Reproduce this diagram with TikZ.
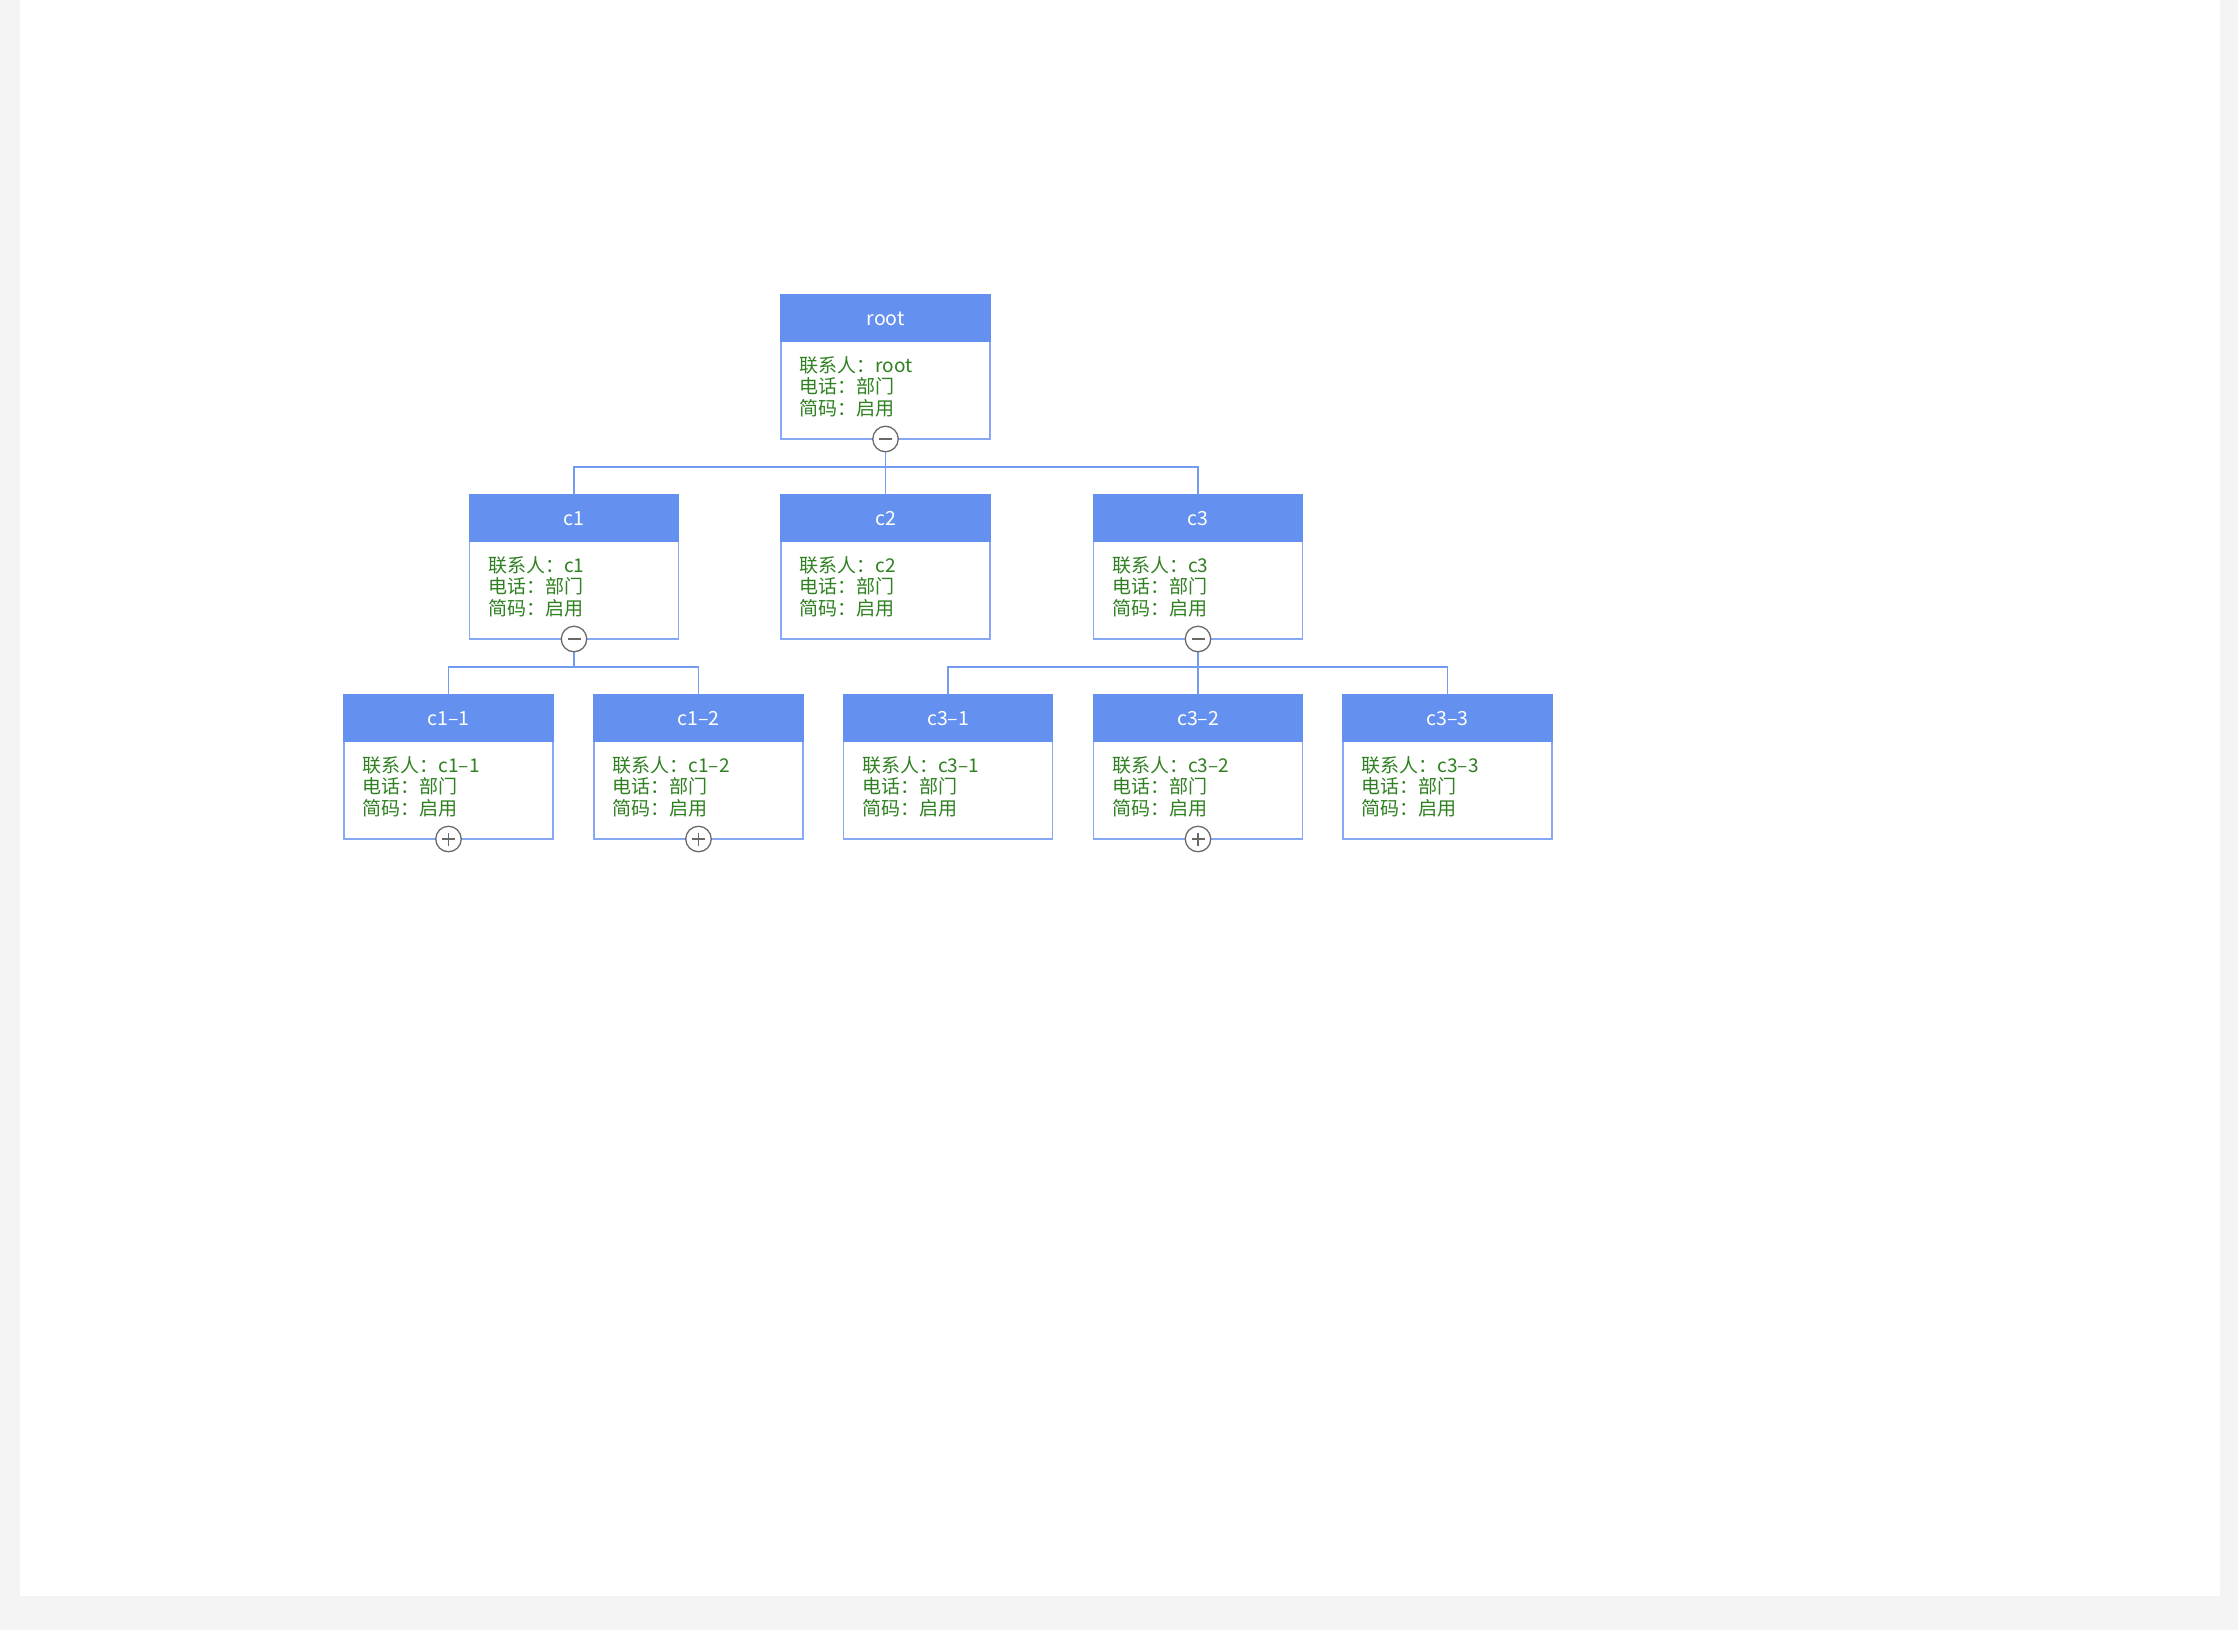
\documentclass[tikz,border=0pt]{standalone}
\usepackage{fontspec}
\setmainfont{Noto Sans CJK SC}
\usetikzlibrary{calc}
\definecolor{bggray}{RGB}{244,244,244}
\definecolor{headblue}{RGB}{100,145,240}
\definecolor{cardborder}{RGB}{135,168,245}
\definecolor{connblue}{RGB}{115,155,242}
\definecolor{bodygreen}{RGB}{46,128,32}
\definecolor{btngray}{RGB}{105,105,105}
\tikzset{
  card/.style={draw=cardborder, line width=1.5pt, fill=white, anchor=north west,
    minimum width=209pt, minimum height=144pt, inner sep=0pt, outer sep=0pt},
  cardhead/.style={fill=headblue, anchor=north west, minimum width=209pt,
    minimum height=48pt, inner sep=0pt, text=white, font=\fontsize{19.5}{21.7}\selectfont},
  cardbody/.style={anchor=base west, align=left, inner sep=0pt, text=bodygreen,
    font=\fontsize{19}{21.7}\selectfont},
  conn/.style={draw=connblue, line width=1.8pt},
  btn/.style={circle, draw=btngray, fill=white, line width=1.3pt, minimum size=25.5pt, inner sep=0pt},
  sign/.style={draw=btngray, line width=1.3pt}
}
\newcommand\orgcard[4]{%
  \node[card] (#1) at (#2,#3) {};
  \node[cardhead] (#1h) at (#2-0.75,#3-0.75) [minimum width=210.5pt] {\raisebox{-2.5pt}{#4}};
  \node[cardbody] (#1t) at (#2+18.5,#3+120.4) {联系人：#4\\电话：部门\\简码：启用};
}
\newcommand\minusbtn[2]{%
  \node[btn] (#1) at (#2.south) {};
  \draw[sign] ([xshift=-6.5pt]#1.center) -- ([xshift=6.5pt]#1.center);
}
\newcommand\plusbtn[2]{%
  \node[btn] (#1) at (#2.south) {};
  \draw[sign] ([xshift=-6.5pt]#1.center) -- ([xshift=6.5pt]#1.center);
  \draw[sign] ([yshift=-6.5pt]#1.center) -- ([yshift=6.5pt]#1.center);
}
\begin{document}
\begin{tikzpicture}[x=1pt,y=-1pt]
\useasboundingbox (0,0) rectangle (2238,1630);
\fill[bggray] (0,0) rectangle (2238,1630);
\fill[white] (20,0) rectangle (2220,1596);

\orgcard{root}{781}{295}{root}
\orgcard{c1}{469.5}{495}{c1}
\orgcard{c2}{781}{495}{c2}
\orgcard{c3}{1093.5}{495}{c3}
\orgcard{c11}{344}{695}{c1–1}
\orgcard{c12}{594}{695}{c1–2}
\orgcard{c31}{843.5}{695}{c3–1}
\orgcard{c32}{1093.5}{695}{c3–2}
\orgcard{c33}{1343}{695}{c3–3}

\draw[conn] (root.south) |- ([yshift=28pt]c1.north) -- (c1.north);
\draw[conn] (root.south) -- (c2.north);
\draw[conn] (root.south) |- ([yshift=28pt]c3.north) -- (c3.north);
\draw[conn] (c1.south) |- ([yshift=28pt]c11.north) -- (c11.north);
\draw[conn] (c1.south) |- ([yshift=28pt]c12.north) -- (c12.north);
\draw[conn] (c3.south) |- ([yshift=28pt]c31.north) -- (c31.north);
\draw[conn] (c3.south) -- (c32.north);
\draw[conn] (c3.south) |- ([yshift=28pt]c33.north) -- (c33.north);

\minusbtn{rootb}{root}
\minusbtn{c1b}{c1}
\minusbtn{c3b}{c3}
\plusbtn{c11b}{c11}
\plusbtn{c12b}{c12}
\plusbtn{c32b}{c32}
\end{tikzpicture}
\end{document}
